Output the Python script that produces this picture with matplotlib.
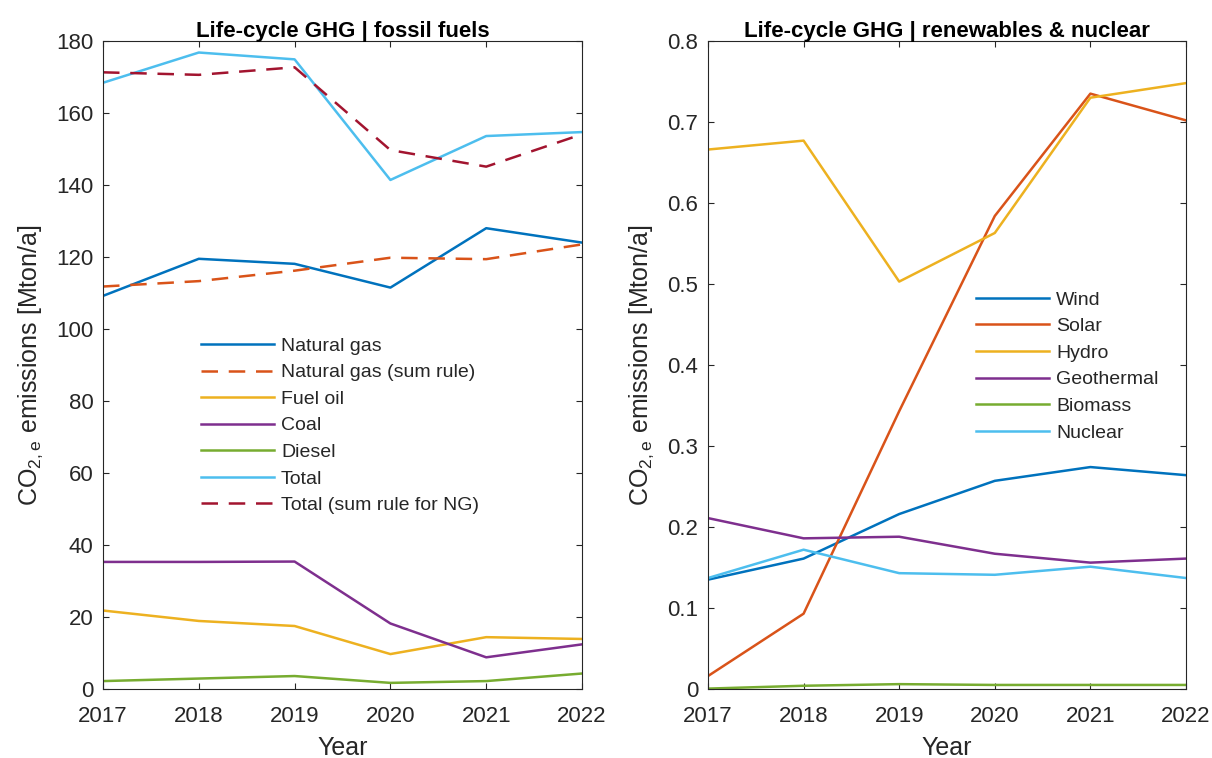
import matplotlib
matplotlib.use("Agg")
import matplotlib.pyplot as plt

plt.rcParams['font.family'] = ['Liberation Sans', 'DejaVu Sans']
plt.rcParams['mathtext.default'] = 'regular'

years = [2017, 2018, 2019, 2020, 2021, 2022]

# Fossil fuels [Mton/a]
natural_gas = [109.2, 119.5, 118.1, 111.5, 128.0, 124.0]
natural_gas_sum = [111.8, 113.3, 116.2, 119.8, 119.4, 123.5]
fuel_oil = [21.8, 18.9, 17.5, 9.7, 14.4, 13.9]
coal = [35.3, 35.3, 35.4, 18.2, 8.8, 12.4]
diesel = [2.2, 2.9, 3.6, 1.7, 2.2, 4.3]
total = [168.4, 176.8, 174.9, 141.4, 153.6, 154.7]
total_sum = [171.3, 170.6, 172.7, 149.7, 145.1, 154.1]

# Renewables & nuclear [Mton/a]
wind = [0.135, 0.161, 0.216, 0.257, 0.274, 0.264]
solar = [0.016, 0.093, 0.343, 0.584, 0.735, 0.702]
hydro = [0.666, 0.677, 0.503, 0.563, 0.730, 0.748]
geothermal = [0.211, 0.186, 0.188, 0.167, 0.156, 0.161]
biomass = [0.0005, 0.004, 0.006, 0.005, 0.005, 0.005]
nuclear = [0.137, 0.172, 0.143, 0.141, 0.151, 0.137]

C = ['#0072BD', '#D95319', '#EDB120', '#7E2F8E', '#77AC30', '#4DBEEE', '#A2142F']
AX = '#262626'

fig = plt.figure(figsize=(12.12, 7.58), dpi=100)
ax1 = fig.add_axes([103 / 1212, 69 / 758, 479 / 1212, 648 / 758])
ax2 = fig.add_axes([708 / 1212, 69 / 758, 478 / 1212, 648 / 758])

lw = 1.8
dash = (0, (6.6, 4.3))
ax1.plot(years, natural_gas, color=C[0], lw=lw, label='Natural gas')
ax1.plot(years, natural_gas_sum, color=C[1], lw=lw, linestyle=dash, label='Natural gas (sum rule)')
ax1.plot(years, fuel_oil, color=C[2], lw=lw, label='Fuel oil')
ax1.plot(years, coal, color=C[3], lw=lw, label='Coal')
ax1.plot(years, diesel, color=C[4], lw=lw, label='Diesel')
ax1.plot(years, total, color=C[5], lw=lw, label='Total')
ax1.plot(years, total_sum, color=C[6], lw=lw, linestyle=dash, label='Total (sum rule for NG)')

ax2.plot(years, wind, color=C[0], lw=lw, label='Wind')
ax2.plot(years, solar, color=C[1], lw=lw, label='Solar')
ax2.plot(years, hydro, color=C[2], lw=lw, label='Hydro')
ax2.plot(years, geothermal, color=C[3], lw=lw, label='Geothermal')
ax2.plot(years, biomass, color=C[4], lw=lw, label='Biomass')
ax2.plot(years, nuclear, color=C[5], lw=lw, label='Nuclear')

ax1.set_ylim(0, 180)
ax1.set_yticks(range(0, 181, 20))
ax2.set_ylim(0, 0.8)
ax2.set_yticks([0, 0.1, 0.2, 0.3, 0.4, 0.5, 0.6, 0.7, 0.8])
ax2.set_yticklabels(['0', '0.1', '0.2', '0.3', '0.4', '0.5', '0.6', '0.7', '0.8'])

titles = ['Life-cycle GHG | fossil fuels', 'Life-cycle GHG | renewables & nuclear']
for ax, t in zip([ax1, ax2], titles):
    ax.set_xlim(2017, 2022)
    ax.set_xticks(years)
    ax.set_xticklabels([str(y) for y in years])
    ax.tick_params(direction='in', length=4.3, width=0.8, colors=AX, labelsize=16,
                   top=True, right=True)
    ax.tick_params(axis='x', pad=12)
    ax.tick_params(axis='y', pad=7)
    for s in ax.spines.values():
        s.set_color(AX)
        s.set_linewidth(0.8)
    ax.set_xlabel('Year', fontsize=18, color=AX, labelpad=7)
    ax.set_ylabel(r'CO$_{\mathregular{2,e}}$ emissions [Mton/a]', fontsize=18, color=AX, labelpad=8)
    ax.set_title(t, fontsize=16, fontweight='bold', color='black', pad=3)

leg_kw = dict(frameon=False, fontsize=14, handlelength=3.76, handletextpad=0.36,
              labelspacing=0.46, labelcolor=AX)
ax1.legend(loc='upper left', bbox_to_anchor=(0.168, 0.570), **leg_kw)
ax2.legend(loc='upper left', bbox_to_anchor=(0.524, 0.641), **leg_kw)

fig.savefig('out.png', dpi=100, facecolor='white')
